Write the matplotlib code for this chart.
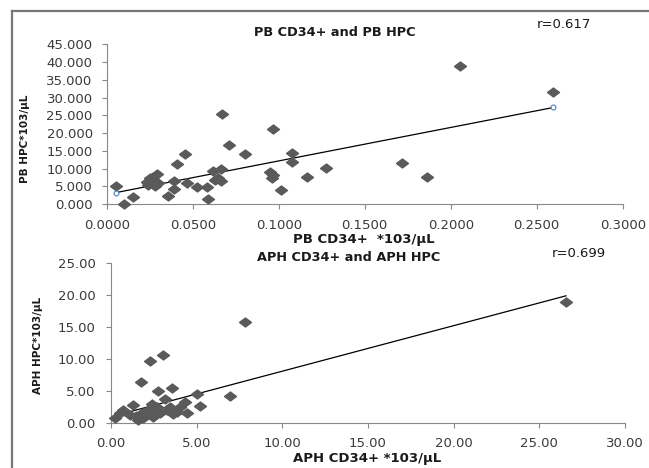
import numpy as np
import matplotlib
matplotlib.use("Agg")
import matplotlib.pyplot as plt
from matplotlib.lines import Line2D

# PB CD34+ vs PB HPC (x 10^3/uL)
pb_cd34 = [0.0054, 0.0101, 0.0155, 0.0233, 0.0242, 0.0252, 0.0262, 0.0271, 0.0281, 0.0291,
           0.0300, 0.0358, 0.0391, 0.0391, 0.0410, 0.0455, 0.0465, 0.0523, 0.0581, 0.0591,
           0.0620, 0.0630, 0.0650, 0.0663, 0.0663, 0.0669, 0.0713, 0.0804, 0.0949, 0.0965,
           0.0969, 0.0959, 0.1015, 0.1076, 0.1076, 0.1163, 0.1273, 0.1715, 0.1860, 0.2054,
           0.2597]
pb_hpc = [5.2, 0.0, 2.1, 6.3, 5.4, 7.2, 6.6, 7.7, 5.1, 8.5,
          6.0, 2.3, 4.1, 6.6, 11.2, 14.1, 6.0, 4.7, 4.7, 1.3,
          9.3, 6.8, 7.2, 9.8, 6.6, 25.5, 16.6, 14.1, 9.1, 21.0,
          8.2, 7.3, 3.9, 14.5, 11.9, 7.7, 10.2, 11.5, 7.7, 38.9,
          31.6]
pb_trend = (94.3, 2.71)  # slope, intercept
pb_r = "r=0.617"

# APH CD34+ vs APH HPC
aph_cd34 = [0.23, 0.52, 0.72, 1.10, 1.30, 1.45, 1.60, 1.73, 1.79, 1.89,
            2.05, 2.18, 2.28, 2.37, 2.47, 2.55, 2.67, 2.76, 2.86, 3.05,
            3.15, 3.25, 3.44, 3.54, 3.60, 3.83, 4.00, 4.32, 4.42, 5.00,
            5.20, 6.95, 7.82, 26.56]
aph_hpc = [0.7, 1.5, 2.0, 1.2, 2.8, 1.0, 0.4, 6.4, 1.5, 0.7,
           1.6, 2.0, 9.7, 3.0, 0.9, 1.3, 2.5, 4.9, 1.5, 10.6,
           3.7, 2.0, 2.5, 5.4, 1.3, 1.7, 2.5, 3.3, 1.5, 4.5,
           2.6, 4.2, 15.8, 19.0]
aph_trend = (0.714, 0.94)
aph_r = "r=0.699"

diamond = [(-1, 0), (0, 0.75), (1, 0), (0, -0.75), (-1, 0)]
GREY = "#5a5a5a"
SPINE = "#888888"
TICK_TXT = "#3a3a3a"

fig = plt.figure(figsize=(6.49, 4.68), dpi=100)


def setup(ax, xlim, ylim, xstep, ystep, xfmt, yfmt, xpad, ypad):
    ax.set_xlim(*xlim)
    ax.set_ylim(*ylim)
    ax.set_xticks(np.arange(xlim[0], xlim[1] + xstep / 2, xstep))
    ax.set_yticks(np.arange(ylim[0], ylim[1] + ystep / 2, ystep))
    ax.xaxis.set_major_formatter(matplotlib.ticker.FormatStrFormatter(xfmt))
    ax.yaxis.set_major_formatter(matplotlib.ticker.FormatStrFormatter(yfmt))
    for s in ["top", "right"]:
        ax.spines[s].set_visible(False)
    for s in ["left", "bottom"]:
        ax.spines[s].set_color(SPINE)
        ax.spines[s].set_linewidth(0.8)
    ax.tick_params(axis="both", direction="out", length=3.6, width=0.8,
                   color=SPINE, labelsize=9.5, labelcolor=TICK_TXT)
    ax.tick_params(axis="x", pad=xpad)
    ax.tick_params(axis="y", pad=ypad)
    ax.patch.set_alpha(0)


# top panel
ax1 = fig.add_axes([0.1644, 0.5641, 0.7951, 0.3412])
ax1.plot(pb_cd34, pb_hpc, linestyle="none", marker=diamond, markersize=8.6,
         color=GREY, clip_on=False, zorder=3)
tx = np.array([min(pb_cd34), max(pb_cd34)])
ty = pb_trend[0] * tx + pb_trend[1]
ax1.plot(tx, ty, color="black", lw=0.9, zorder=2)
ax1.plot(tx, ty, linestyle="none", marker="o", markersize=3.5, mfc="white",
         mec="#4f81bd", mew=0.8, zorder=4)
setup(ax1, (0, 0.3), (0, 45), 0.05, 5, "%.4f", "%.3f", 7.5, 6.5)

# bottom panel
ax2 = fig.add_axes([0.1710, 0.0968, 0.7920, 0.3406])
ax2.plot(aph_cd34, aph_hpc, linestyle="none", marker=diamond, markersize=8.6,
         color=GREY, clip_on=False, zorder=3)
tx = np.array([min(aph_cd34), max(aph_cd34)])
ax2.plot(tx, aph_trend[0] * tx + aph_trend[1], color="black", lw=0.9, zorder=2)
setup(ax2, (0, 30), (0, 25), 5, 5, "%.2f", "%.2f", 6.5, 7.5)

# texts
bold = dict(fontweight="bold", color="#1a1a1a", ha="center", va="center")
fig.text(0.5162, 0.9295, "PB CD34+ and PB HPC", fontsize=9.3, **bold)
fig.text(0.869, 0.9466, pb_r, fontsize=9.5, color="#1a1a1a", ha="center", va="center")
fig.text(0.5601, 0.4893, "PB CD34+  *103/μL", fontsize=9.5, **bold)
fig.text(0.0385, 0.703, "PB HPC*103/μL", fontsize=7.5, rotation=90, **bold)

fig.text(0.5378, 0.4494, "APH CD34+ and APH HPC", fontsize=9.3, **bold)
fig.text(0.8921, 0.4573, aph_r, fontsize=9.5, color="#1a1a1a", ha="center", va="center")
fig.text(0.5661, 0.0205, "APH CD34+ *103/μL", fontsize=9.5, **bold)
fig.text(0.0586, 0.2628, "APH HPC*103/μL", fontsize=7.5, rotation=90, **bold)

# outer frame (left and top edges)
fig.add_artist(Line2D([12 / 649, 12 / 649], [0, 1 - 11 / 468], transform=fig.transFigure,
                      color="#777777", lw=1.6))
fig.add_artist(Line2D([12 / 649, 1], [1 - 11 / 468, 1 - 11 / 468], transform=fig.transFigure,
                      color="#777777", lw=1.6))

fig.savefig("out.png", dpi=100)
plt.close("all")
